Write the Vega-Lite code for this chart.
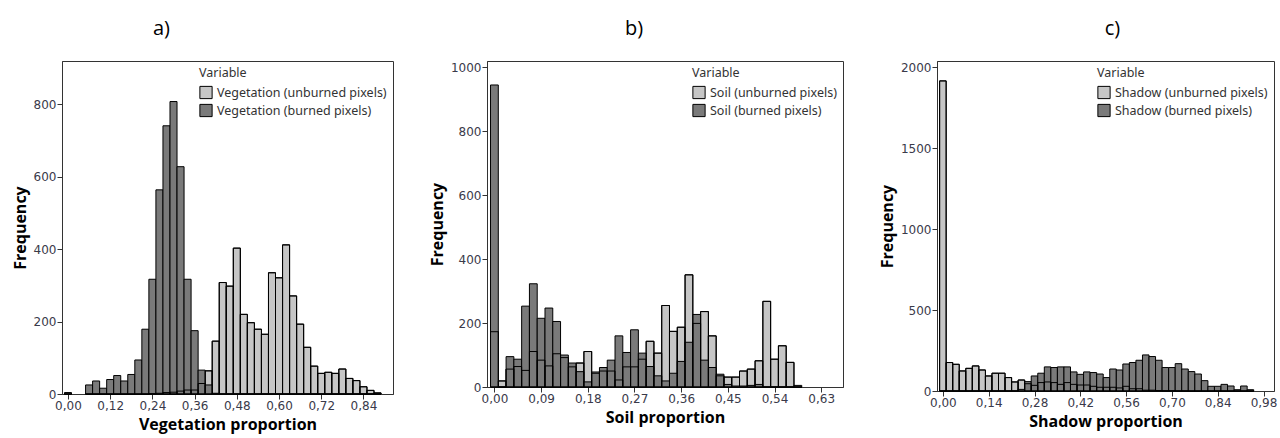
{
  "$schema": "https://vega.github.io/schema/vega-lite/v6.json",
  "background": "white",
  "padding": {"left": 11, "top": 18, "right": 2, "bottom": 5},
  "datasets": {
    "veg": [
      {"lo": -0.01, "hi": 0.01, "u": 0, "b": 4},
      {"lo": 0.05, "hi": 0.07, "u": 0, "b": 25},
      {"lo": 0.07, "hi": 0.09, "u": 0, "b": 36},
      {"lo": 0.09, "hi": 0.11, "u": 0, "b": 16},
      {"lo": 0.11, "hi": 0.13, "u": 0, "b": 40},
      {"lo": 0.13, "hi": 0.15, "u": 0, "b": 51},
      {"lo": 0.15, "hi": 0.17, "u": 0, "b": 36},
      {"lo": 0.17, "hi": 0.19, "u": 0, "b": 54},
      {"lo": 0.19, "hi": 0.21, "u": 0, "b": 94},
      {"lo": 0.21, "hi": 0.23, "u": 0, "b": 179},
      {"lo": 0.23, "hi": 0.25, "u": 1, "b": 317},
      {"lo": 0.25, "hi": 0.27, "u": 2, "b": 564},
      {"lo": 0.27, "hi": 0.29, "u": 4, "b": 741},
      {"lo": 0.29, "hi": 0.31, "u": 5, "b": 808},
      {"lo": 0.31, "hi": 0.33, "u": 8, "b": 628},
      {"lo": 0.33, "hi": 0.35, "u": 11, "b": 317},
      {"lo": 0.35, "hi": 0.37, "u": 11, "b": 175},
      {"lo": 0.37, "hi": 0.39, "u": 29, "b": 66},
      {"lo": 0.39, "hi": 0.41, "u": 64, "b": 25},
      {"lo": 0.41, "hi": 0.43, "u": 146, "b": 2},
      {"lo": 0.43, "hi": 0.45, "u": 308, "b": 0},
      {"lo": 0.45, "hi": 0.47, "u": 298, "b": 0},
      {"lo": 0.47, "hi": 0.49, "u": 403, "b": 0},
      {"lo": 0.49, "hi": 0.51, "u": 220, "b": 0},
      {"lo": 0.51, "hi": 0.53, "u": 197, "b": 0},
      {"lo": 0.53, "hi": 0.55, "u": 179, "b": 0},
      {"lo": 0.55, "hi": 0.57, "u": 165, "b": 0},
      {"lo": 0.57, "hi": 0.59, "u": 335, "b": 0},
      {"lo": 0.59, "hi": 0.61, "u": 321, "b": 0},
      {"lo": 0.61, "hi": 0.63, "u": 412, "b": 0},
      {"lo": 0.63, "hi": 0.65, "u": 271, "b": 0},
      {"lo": 0.65, "hi": 0.67, "u": 193, "b": 0},
      {"lo": 0.67, "hi": 0.69, "u": 129, "b": 0},
      {"lo": 0.69, "hi": 0.71, "u": 77, "b": 0},
      {"lo": 0.71, "hi": 0.73, "u": 57, "b": 0},
      {"lo": 0.73, "hi": 0.75, "u": 60, "b": 0},
      {"lo": 0.75, "hi": 0.77, "u": 57, "b": 0},
      {"lo": 0.77, "hi": 0.79, "u": 69, "b": 0},
      {"lo": 0.79, "hi": 0.81, "u": 43, "b": 0},
      {"lo": 0.81, "hi": 0.83, "u": 37, "b": 0},
      {"lo": 0.83, "hi": 0.85, "u": 20, "b": 0},
      {"lo": 0.85, "hi": 0.87, "u": 10, "b": 0},
      {"lo": 0.87, "hi": 0.89, "u": 3, "b": 0}
    ],
    "soil": [
      {"lo": -0.0075, "hi": 0.0075, "u": 173, "b": 945},
      {"lo": 0.0075, "hi": 0.0225, "u": 19, "b": 0},
      {"lo": 0.0225, "hi": 0.0375, "u": 56, "b": 95},
      {"lo": 0.0375, "hi": 0.0525, "u": 64, "b": 87},
      {"lo": 0.0525, "hi": 0.0675, "u": 52, "b": 253},
      {"lo": 0.0675, "hi": 0.0825, "u": 111, "b": 323},
      {"lo": 0.0825, "hi": 0.0975, "u": 84, "b": 215},
      {"lo": 0.0975, "hi": 0.1125, "u": 66, "b": 247},
      {"lo": 0.1125, "hi": 0.1275, "u": 104, "b": 205},
      {"lo": 0.1275, "hi": 0.1425, "u": 92, "b": 100},
      {"lo": 0.1425, "hi": 0.1575, "u": 63, "b": 75},
      {"lo": 0.1575, "hi": 0.1725, "u": 75, "b": 48},
      {"lo": 0.1725, "hi": 0.1875, "u": 111, "b": 16},
      {"lo": 0.1875, "hi": 0.2025, "u": 43, "b": 47},
      {"lo": 0.2025, "hi": 0.2175, "u": 50, "b": 61},
      {"lo": 0.2175, "hi": 0.2325, "u": 50, "b": 84},
      {"lo": 0.2325, "hi": 0.2475, "u": 22, "b": 160},
      {"lo": 0.2475, "hi": 0.2625, "u": 63, "b": 108},
      {"lo": 0.2625, "hi": 0.2775, "u": 63, "b": 179},
      {"lo": 0.2775, "hi": 0.2925, "u": 87, "b": 106},
      {"lo": 0.2925, "hi": 0.3075, "u": 143, "b": 64},
      {"lo": 0.3075, "hi": 0.3225, "u": 106, "b": 35},
      {"lo": 0.3225, "hi": 0.3375, "u": 255, "b": 19},
      {"lo": 0.3375, "hi": 0.3525, "u": 174, "b": 43},
      {"lo": 0.3525, "hi": 0.3675, "u": 187, "b": 80},
      {"lo": 0.3675, "hi": 0.3825, "u": 351, "b": 140},
      {"lo": 0.3825, "hi": 0.3975, "u": 199, "b": 227},
      {"lo": 0.3975, "hi": 0.4125, "u": 236, "b": 84},
      {"lo": 0.4125, "hi": 0.4275, "u": 160, "b": 61},
      {"lo": 0.4275, "hi": 0.4425, "u": 35, "b": 40},
      {"lo": 0.4425, "hi": 0.4575, "u": 31, "b": 8},
      {"lo": 0.4575, "hi": 0.4725, "u": 31, "b": 3},
      {"lo": 0.4725, "hi": 0.4875, "u": 50, "b": 3},
      {"lo": 0.4875, "hi": 0.5025, "u": 56, "b": 5},
      {"lo": 0.5025, "hi": 0.5175, "u": 82, "b": 8},
      {"lo": 0.5175, "hi": 0.5325, "u": 268, "b": 0},
      {"lo": 0.5325, "hi": 0.5475, "u": 87, "b": 0},
      {"lo": 0.5475, "hi": 0.5625, "u": 129, "b": 0},
      {"lo": 0.5625, "hi": 0.5775, "u": 77, "b": 0},
      {"lo": 0.5775, "hi": 0.5925, "u": 0, "b": 5}
    ],
    "shadow": [
      {"lo": -0.01, "hi": 0.01, "u": 1917, "b": 0},
      {"lo": 0.01, "hi": 0.03, "u": 176, "b": 0},
      {"lo": 0.03, "hi": 0.05, "u": 165, "b": 0},
      {"lo": 0.05, "hi": 0.07, "u": 124, "b": 0},
      {"lo": 0.07, "hi": 0.09, "u": 140, "b": 0},
      {"lo": 0.09, "hi": 0.11, "u": 155, "b": 0},
      {"lo": 0.11, "hi": 0.13, "u": 130, "b": 0},
      {"lo": 0.13, "hi": 0.15, "u": 93, "b": 0},
      {"lo": 0.15, "hi": 0.17, "u": 110, "b": 0},
      {"lo": 0.17, "hi": 0.19, "u": 110, "b": 0},
      {"lo": 0.19, "hi": 0.21, "u": 83, "b": 0},
      {"lo": 0.21, "hi": 0.23, "u": 56, "b": 0},
      {"lo": 0.23, "hi": 0.25, "u": 68, "b": 10},
      {"lo": 0.25, "hi": 0.27, "u": 45, "b": 58},
      {"lo": 0.27, "hi": 0.29, "u": 35, "b": 93},
      {"lo": 0.29, "hi": 0.31, "u": 52, "b": 110},
      {"lo": 0.31, "hi": 0.33, "u": 56, "b": 149},
      {"lo": 0.33, "hi": 0.35, "u": 52, "b": 145},
      {"lo": 0.35, "hi": 0.37, "u": 41, "b": 149},
      {"lo": 0.37, "hi": 0.39, "u": 52, "b": 149},
      {"lo": 0.39, "hi": 0.41, "u": 41, "b": 118},
      {"lo": 0.41, "hi": 0.43, "u": 37, "b": 103},
      {"lo": 0.43, "hi": 0.45, "u": 37, "b": 118},
      {"lo": 0.45, "hi": 0.47, "u": 29, "b": 114},
      {"lo": 0.47, "hi": 0.49, "u": 23, "b": 105},
      {"lo": 0.49, "hi": 0.51, "u": 23, "b": 83},
      {"lo": 0.51, "hi": 0.53, "u": 23, "b": 136},
      {"lo": 0.53, "hi": 0.55, "u": 19, "b": 130},
      {"lo": 0.55, "hi": 0.57, "u": 29, "b": 167},
      {"lo": 0.57, "hi": 0.59, "u": 14, "b": 176},
      {"lo": 0.59, "hi": 0.61, "u": 14, "b": 190},
      {"lo": 0.61, "hi": 0.63, "u": 5, "b": 223},
      {"lo": 0.63, "hi": 0.65, "u": 5, "b": 213},
      {"lo": 0.65, "hi": 0.67, "u": 3, "b": 190},
      {"lo": 0.67, "hi": 0.69, "u": 2, "b": 145},
      {"lo": 0.69, "hi": 0.71, "u": 2, "b": 145},
      {"lo": 0.71, "hi": 0.73, "u": 1, "b": 169},
      {"lo": 0.73, "hi": 0.75, "u": 1, "b": 136},
      {"lo": 0.75, "hi": 0.77, "u": 0, "b": 120},
      {"lo": 0.77, "hi": 0.79, "u": 0, "b": 105},
      {"lo": 0.79, "hi": 0.81, "u": 0, "b": 64},
      {"lo": 0.81, "hi": 0.83, "u": 0, "b": 29},
      {"lo": 0.83, "hi": 0.85, "u": 0, "b": 29},
      {"lo": 0.85, "hi": 0.87, "u": 0, "b": 41},
      {"lo": 0.87, "hi": 0.89, "u": 0, "b": 31},
      {"lo": 0.89, "hi": 0.91, "u": 0, "b": 8},
      {"lo": 0.91, "hi": 0.93, "u": 0, "b": 31},
      {"lo": 0.93, "hi": 0.95, "u": 0, "b": 8}
    ]
  },
  "config": {
    "view": {"stroke": "#333333", "strokeWidth": 1},
    "axis": {
      "grid": false,
      "domainColor": "#333333",
      "tickColor": "#333333",
      "tickSize": 5,
      "labelFont": "DejaVu Sans",
      "labelFontSize": 12,
      "labelColor": "#3a3a4a",
      "labelPadding": 1,
      "titleFont": "Open Sans",
      "titleFontSize": 16,
      "titleFontWeight": "bold",
      "titleColor": "#000000",
      "titlePadding": 5,
      "format": "d"
    },
    "title": {"font": "Open Sans", "fontSize": 20, "fontWeight": "normal", "color": "#000000", "offset": 22},
    "legend": {
      "orient": "top-right",
      "offset": 6,
      "titleFont": "Noto Sans",
      "titleFontSize": 12.5,
      "titleFontWeight": "normal",
      "titleColor": "#333",
      "labelFont": "Noto Sans",
      "labelFontSize": 12.5,
      "labelColor": "#333",
      "labelLimit": 300,
      "symbolType": "square",
      "symbolSize": 150,
      "symbolStrokeColor": "#000000",
      "symbolStrokeWidth": 1,
      "rowPadding": 0,
      "titlePadding": 6
    }
  },
  "resolve": {"scale": {"color": "independent"}, "legend": {"color": "independent"}},
  "spacing": 34,
  "hconcat": [
    {
      "title": {"text": "a)", "dx": -66},
      "width": 331,
      "height": 333,
      "data": {"name": "veg"},
      "encoding": {
        "x": {"field": "lo", "type": "quantitative", "scale": {"domain": [-0.017, 0.924], "nice": false, "zero": false},
              "axis": {"values": [0, 0.12, 0.24, 0.36, 0.48, 0.6, 0.72, 0.84], "labelExpr": "replace(format(datum.value, '.2f'), '.', ',')", "title": "Vegetation proportion"}},
        "x2": {"field": "hi"},
        "y2": {"datum": 0}
      },
      "layer": [
        {"mark": {"type": "bar", "stroke": "#000000", "strokeWidth": 1},
         "encoding": {"y": {"field": "u", "type": "quantitative", "scale": {"domain": [0, 920], "nice": false}, "axis": {"values": [0,100,200,300,400,500,600,700,800,900], "title": "Frequency"}},
                      "color": {"datum": "Vegetation (unburned pixels)", "type": "nominal", "scale": {"domain": ["Vegetation (unburned pixels)", "Vegetation (burned pixels)"], "range": ["#c6c6c6", "#7a7a7a"]}, "legend": {"title": "Variable"}}}},
        {"mark": {"type": "bar", "stroke": "#000000", "strokeWidth": 1},
         "encoding": {"y": {"field": "b", "type": "quantitative"},
                      "color": {"datum": "Vegetation (burned pixels)", "type": "nominal"}}},
        {"mark": {"type": "bar", "fill": null, "fillOpacity": 0, "stroke": "#000000", "strokeWidth": 1},
         "encoding": {"y": {"field": "u", "type": "quantitative"}}}
      ]
    },
    {
      "title": {"text": "b)", "dx": -31},
      "width": 356,
      "height": 326,
      "data": {"name": "soil"},
      "encoding": {
        "x": {"field": "lo", "type": "quantitative", "scale": {"domain": [-0.0143, 0.672], "nice": false, "zero": false},
              "axis": {"values": [0, 0.09, 0.18, 0.27, 0.36, 0.45, 0.54, 0.63], "labelExpr": "replace(format(datum.value, '.2f'), '.', ',')", "title": "Soil proportion"}},
        "x2": {"field": "hi"},
        "y2": {"datum": 0}
      },
      "layer": [
        {"mark": {"type": "bar", "stroke": "#000000", "strokeWidth": 1},
         "encoding": {"y": {"field": "u", "type": "quantitative", "scale": {"domain": [0, 1020], "nice": false}, "axis": {"values": [0,200,400,600,800,1000], "title": "Frequency"}},
                      "color": {"datum": "Soil (unburned pixels)", "type": "nominal", "scale": {"domain": ["Soil (unburned pixels)", "Soil (burned pixels)"], "range": ["#c6c6c6", "#7a7a7a"]}, "legend": {"title": "Variable"}}}},
        {"mark": {"type": "bar", "stroke": "#000000", "strokeWidth": 1},
         "encoding": {"y": {"field": "b", "type": "quantitative"},
                      "color": {"datum": "Soil (burned pixels)", "type": "nominal"}}},
        {"mark": {"type": "bar", "fill": null, "fillOpacity": 0, "stroke": "#000000", "strokeWidth": 1},
         "encoding": {"y": {"field": "u", "type": "quantitative"}}}
      ]
    },
    {
      "title": {"text": "c)", "dx": 7},
      "width": 337,
      "height": 330,
      "data": {"name": "shadow"},
      "encoding": {
        "x": {"field": "lo", "type": "quantitative", "scale": {"domain": [-0.018, 1.012], "nice": false, "zero": false},
              "axis": {"values": [0, 0.14, 0.28, 0.42, 0.56, 0.7, 0.84, 0.98], "labelExpr": "replace(format(datum.value, '.2f'), '.', ',')", "title": "Shadow proportion"}},
        "x2": {"field": "hi"},
        "y2": {"datum": 0}
      },
      "layer": [
        {"mark": {"type": "bar", "stroke": "#000000", "strokeWidth": 1},
         "encoding": {"y": {"field": "u", "type": "quantitative", "scale": {"domain": [0, 2040], "nice": false}, "axis": {"values": [0,500,1000,1500,2000], "title": "Frequency"}},
                      "color": {"datum": "Shadow (unburned pixels)", "type": "nominal", "scale": {"domain": ["Shadow (unburned pixels)", "Shadow (burned pixels)"], "range": ["#c6c6c6", "#7a7a7a"]}, "legend": {"title": "Variable"}}}},
        {"mark": {"type": "bar", "stroke": "#000000", "strokeWidth": 1},
         "encoding": {"y": {"field": "b", "type": "quantitative"},
                      "color": {"datum": "Shadow (burned pixels)", "type": "nominal"}}},
        {"mark": {"type": "bar", "fill": null, "fillOpacity": 0, "stroke": "#000000", "strokeWidth": 1},
         "encoding": {"y": {"field": "u", "type": "quantitative"}}}
      ]
    }
  ]
}
